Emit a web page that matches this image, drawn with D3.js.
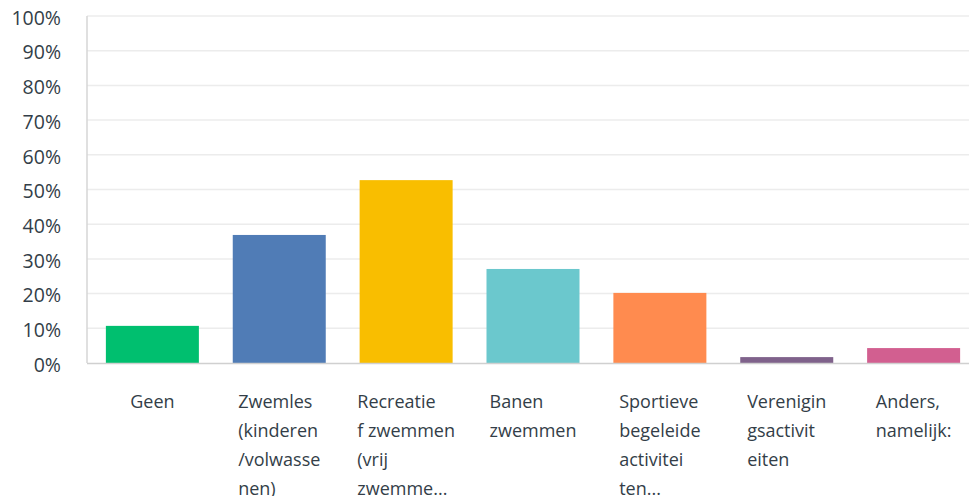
<!DOCTYPE html>
<html>
<head>
<meta charset="utf-8">
<script src="https://cdn.jsdelivr.net/npm/d3@7"></script>
<style>
  body { margin: 0; background: #fff; }
  text { font-family: "Open Sans", Roboto, sans-serif; fill: #333e48; }
</style>
</head>
<body>
<div id="chart"></div>
<script>
var categories = [
  ['Geen'],
  ['Zwemles', '(kinderen', '/volwasse', 'nen)'],
  ['Recreatie', 'f zwemmen', '(vrij', 'zwemme...'],
  ['Banen', 'zwemmen'],
  ['Sportieve', 'begeleide', 'activitei', 'ten...'],
  ['Verenigin', 'gsactivit', 'eiten'],
  ['Anders,', 'namelijk:']
];
var values = [10.7, 36.9, 52.7, 27.1, 20.2, 1.7, 4.3];
var colors = ['#00bf6f', '#507cb6', '#f9be00', '#6bc8cd', '#ff8b4f', '#7f628b', '#d25f90'];
var yTicks = [0, 10, 20, 30, 40, 50, 60, 70, 80, 90, 100];

var width = 969, height = 496;
var plotLeft = 87, plotTop = 16, plotBottom = 363;

var svg = d3.select('#chart')
  .append('svg')
  .attr('width', width)
  .attr('height', height);

var x = d3.scaleBand()
  .domain(d3.range(values.length))
  .range([89, 977])
  .paddingInner(0.267)
  .paddingOuter(0.133);

var y = d3.scaleLinear()
  .domain([0, 100])
  .range([plotBottom, plotTop]);

// gridlines
svg.selectAll('line.grid')
  .data(yTicks.slice(1))
  .enter()
  .append('line')
  .attr('class', 'grid')
  .attr('x1', plotLeft)
  .attr('x2', width)
  .attr('y1', function (d) { return y(d); })
  .attr('y2', function (d) { return y(d); })
  .attr('stroke', '#ececec')
  .attr('stroke-width', 1.5);

// y axis line
svg.append('line')
  .attr('x1', plotLeft).attr('x2', plotLeft)
  .attr('y1', plotTop).attr('y2', plotBottom)
  .attr('stroke', '#d6d6d6')
  .attr('stroke-width', 1.5);

// y tick labels
svg.selectAll('text.ytick')
  .data(yTicks)
  .enter()
  .append('text')
  .attr('class', 'ytick')
  .attr('x', 61)
  .attr('y', function (d) { return y(d); })
  .attr('dy', '0.45em')
  .attr('text-anchor', 'end')
  .style('font-size', '19.5px')
  .text(function (d) { return d + '%'; });

// bars
svg.selectAll('rect.bar')
  .data(values)
  .enter()
  .append('rect')
  .attr('class', 'bar')
  .attr('x', function (d, i) { return x(i); })
  .attr('y', function (d) { return y(d); })
  .attr('width', x.bandwidth())
  .attr('height', function (d) { return plotBottom - y(d); })
  .attr('fill', function (d, i) { return colors[i]; });

// x baseline
svg.append('line')
  .attr('x1', plotLeft).attr('x2', width)
  .attr('y1', plotBottom + 0.5).attr('y2', plotBottom + 0.5)
  .attr('stroke', '#d0d0d0')
  .attr('stroke-width', 1.5);

// category labels (block centred on bar, lines left aligned)
categories.forEach(function (lines, i) {
  var g = svg.append('g');
  var texts = g.selectAll('text')
    .data(lines)
    .enter()
    .append('text')
    .attr('y', function (d, j) { return 408 + j * 29; })
    .style('font-size', '18px')
    .text(function (d) { return d; });
  var maxW = d3.max(texts.nodes(), function (n) { return n.getComputedTextLength(); });
  texts.attr('x', x(i) + x.bandwidth() / 2 - maxW / 2);
});
</script>
</body>
</html>
